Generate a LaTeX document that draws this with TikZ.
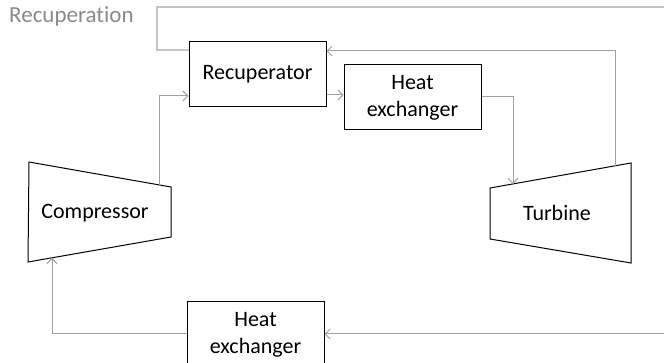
\documentclass[tikz,border=0pt]{standalone}
\usepackage{fontspec}
\setmainfont[Ligatures=NoCommon]{Carlito}
\usetikzlibrary{arrows.meta}
\definecolor{conncol}{HTML}{A0A0A0}
\definecolor{loopcol}{HTML}{C4C4C4}
\definecolor{labcol}{HTML}{8A8A8A}
\tikzset{
  box/.style={draw=black, line width=1pt, minimum width=137pt, minimum height=65pt, inner sep=0pt, align=center, font=\fontsize{22}{27}\selectfont},
  shapeline/.style={draw=black, line width=1pt},
  lbl/.style={font=\fontsize{22}{27}\selectfont, inner sep=0pt},
  conn/.style={draw=conncol, line width=1pt, -{Straight Barb[length=5pt,width=10pt]}},
  loopline/.style={draw=loopcol, line width=1.2pt},
}
\begin{document}
\begin{tikzpicture}[x=1pt,y=-1pt]
\useasboundingbox (0,0) rectangle (664,363);
\clip (0,0) rectangle (664,363);
% boxes
\node[box] (rec) at (257.5,74) {Recuperator};
\node[box] (hx1) at (412.5,97.5) {Heat\\exchanger};
\node[box, minimum height=66pt] (hx2) at (255.5,334.5) {Heat\\exchanger};
% compressor
\coordinate (ctl) at (29,162);
\coordinate (ctr) at (171,187);
\coordinate (cbr) at (171,237);
\coordinate (cbl) at (28,262);
\draw[shapeline] (ctl) -- (ctr) -- (cbr) -- (cbl) -- cycle;
\node[lbl] (comp) at (95,213) {Compressor};
% turbine
\coordinate (ttl) at (490,188);
\coordinate (ttr) at (631,163);
\coordinate (tbr) at (631,263);
\coordinate (tbl) at (490,239);
\draw[shapeline] (ttl) -- (ttr) -- (tbr) -- (tbl) -- cycle;
\node[lbl] (turb) at (557,213) {Turbine};
% label
\node[lbl, font=\fontsize{23}{27}\selectfont, text=labcol, anchor=west] (recl) at (9,16) {Recuperation};
% connection points
\coordinate (cout) at (159,185);
\coordinate (cin) at (52,258);
\coordinate (tout) at (615,166);
\coordinate (tin) at (513,184);
\coordinate (rightin) at (664,334);
\coordinate (loopend) at (664,7);
% recuperation loop
\draw[loopline] (rec.west |- 0,50) -| (157,7) -- (loopend);
% connectors
\draw[conn] (cout) |- (rec.west |- 0,96);
\draw[conn] (tout) |- (rec.east |- 0,51);
\draw[conn] (rec.east |- 0,95) -- (hx1.west |- 0,95);
\draw[conn] (hx1.east |- 0,97) -| (tin);
\draw[conn] (rightin) -- (hx2.east |- rightin);
\draw[conn] (hx2.west |- rightin) -| (cin);
\end{tikzpicture}
\end{document}
